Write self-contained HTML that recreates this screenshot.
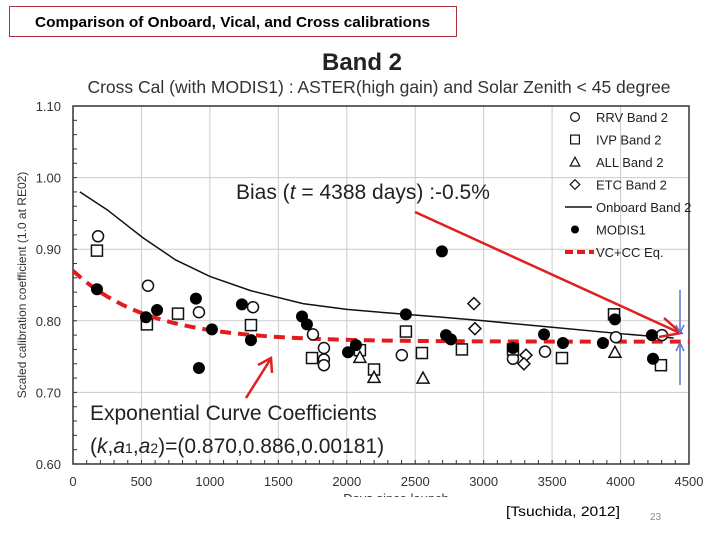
<!DOCTYPE html>
<html><head><meta charset="utf-8"><style>
body{margin:0;width:720px;height:540px;background:#fff;overflow:hidden;font-family:"Liberation Sans",sans-serif}
</style></head><body>
<svg id="chart" width="720" height="540" xmlns="http://www.w3.org/2000/svg" font-family="Liberation Sans, sans-serif">
<rect x="9.5" y="6.5" width="447" height="30" fill="#fff" stroke="#b03040" stroke-width="1"/>
<text x="35" y="27" font-size="15" font-weight="bold" textLength="395" lengthAdjust="spacingAndGlyphs" fill="#000">Comparison of Onboard, Vical, and Cross calibrations</text>
<text x="362" y="70" font-size="24" font-weight="bold" text-anchor="middle" fill="#222">Band 2</text>
<text x="379" y="93" font-size="17.5" text-anchor="middle" fill="#333">Cross Cal (with MODIS1) : ASTER(high gain) and Solar Zenith &lt; 45 degree</text>
<g id="grid"></g>
<g id="axes"></g>
<g id="marks"></g>
<text transform="translate(26,285) rotate(-90)" font-size="12" text-anchor="middle" fill="#333">Scaled calibration coefficient (1.0 at RE02)</text>
<text x="396" y="503" font-size="13" text-anchor="middle" fill="#333">Days since launch</text>
<rect x="0" y="497" width="720" height="43" fill="#fff"/>
<text x="236" y="199" font-size="21" fill="#222">Bias (<tspan font-style="italic">t</tspan> = 4388 days) :-0.5%</text>
<text x="90" y="420" font-size="21" fill="#222">Exponential Curve Coefficients</text>
<text x="90" y="453" font-size="21" fill="#222">(<tspan font-style="italic">k</tspan>,<tspan font-style="italic">a</tspan><tspan font-size="14">1</tspan>,<tspan font-style="italic">a</tspan><tspan font-size="14">2</tspan>)=(0.870,0.886,0.00181)</text>
<g stroke="#e02020" stroke-width="2.5" fill="none">
<line x1="415" y1="212" x2="680" y2="333"/><polyline points="664,318 681,333 659,337"/></g>
<g stroke="#e02020" stroke-width="2.5" fill="none">
<line x1="246" y1="398" x2="270" y2="360"/><polyline points="258,365 271,358 272,373"/></g>
<g stroke="#6070d0" stroke-width="1.5" fill="none">
<line x1="680" y1="290" x2="680" y2="333"/><polyline points="676,325 680,333 684,325"/>
<line x1="680" y1="385" x2="680" y2="343"/><polyline points="676,351 680,343 684,351"/></g>
<g id="legend" font-size="13" fill="#222"></g>
<text x="506" y="516" font-size="14" textLength="114" lengthAdjust="spacingAndGlyphs" fill="#000">[Tsuchida, 2012]</text>
<text x="650" y="520" font-size="10" fill="#888">23</text>
</svg>
<script>
const xTicks=[0,500,1000,1500,2000,2500,3000,3500,4000,4500];
const yTicks=[0.60,0.70,0.80,0.90,1.00,1.10];
const rrvDays=[183,548,920,1315,1753,1833,1833,1833,2402,3214,3448,3966,4303];
const rrvVals=[0.918,0.849,0.812,0.819,0.781,0.762,0.746,0.738,0.752,0.747,0.757,0.777,0.780];
const ivpDays=[175,540,767,1300,1746,2096,2199,2432,2549,2841,3214,3572,3952,4295];
const ivpVals=[0.898,0.795,0.810,0.794,0.748,0.759,0.732,0.785,0.755,0.760,0.760,0.748,0.809,0.738];
const allDays=[2096,2199,2557,3959];
const allVals=[0.749,0.721,0.720,0.756];
const etcDays=[2929,2936,3309,3294];
const etcVals=[0.824,0.789,0.752,0.740];
const modisDays=[175,533,614,898,920,1015,1234,1300,1673,1709,2009,2067,2432,2695,2725,2761,3214,3441,3579,3871,3959,4229,4237];
const modisVals=[0.844,0.805,0.815,0.831,0.734,0.788,0.823,0.773,0.806,0.795,0.756,0.766,0.809,0.897,0.780,0.774,0.762,0.781,0.769,0.769,0.802,0.780,0.747];
const onboardDays=[50,250,511,750,1000,1300,1680,2000,2300,2700,3000,3500,4000,4388];
const onboardVals=[0.980,0.955,0.916,0.885,0.862,0.842,0.824,0.816,0.811,0.805,0.800,0.791,0.782,0.776];
const fitCoef=[0.870,0.886,0.00181];

const NS="http://www.w3.org/2000/svg";
const L=73,R=689,T=106,B=464;
const xS=d=>L+d/4500*(R-L);
const yS=v=>B-(v-0.6)/0.5*(B-T);
function mk(tag,attrs,parent){const e=document.createElementNS(NS,tag);for(const k in attrs)e.setAttribute(k,attrs[k]);parent.appendChild(e);return e;}
const grid=document.getElementById('grid'),axes=document.getElementById('axes'),marks=document.getElementById('marks'),legend=document.getElementById('legend');
xTicks.forEach(t=>{const g=mk('line',{x1:xS(t),x2:xS(t),y1:T,y2:B,stroke:'#ccc','stroke-width':1},grid);

const tx=mk('text',{x:xS(t),y:B+22,'font-size':13,'text-anchor':'middle',fill:'#333'},axes);tx.textContent=t;
});
yTicks.forEach(t=>{const g=mk('line',{x1:L,x2:R,y1:yS(t),y2:yS(t),stroke:'#ccc','stroke-width':1},grid);

const tx=mk('text',{x:L-12,y:yS(t)+5,'font-size':13,'text-anchor':'end',fill:'#333'},axes);tx.textContent=t.toFixed(2);
});
for(let d=100;d<4500;d+=100)mk('line',{x1:xS(d),x2:xS(d),y1:B,y2:B-4,stroke:'#333'},axes);
for(let v=0.62;v<1.1;v+=0.02)mk('line',{x1:L,x2:L+4,y1:yS(v),y2:yS(v),stroke:'#333'},axes);
const fr=mk('rect',{x:L,y:T,width:R-L,height:B-T,fill:'none',stroke:'#333','stroke-width':1.5},axes);


let fp=[];for(let d=0;d<=4500;d+=50){const v=fitCoef[0]*(fitCoef[1]+(1-fitCoef[1])*Math.exp(-fitCoef[2]*d));fp.push(xS(d)+','+yS(v));}
const fit=mk('polyline',{points:fp.join(' '),fill:'none',stroke:'#e21c1c','stroke-width':4,'stroke-dasharray':'11,7'},marks);

const ob=mk('polyline',{points:onboardDays.map((d,i)=>xS(d)+','+yS(onboardVals[i])).join(' '),fill:'none',stroke:'#111','stroke-width':1.5},marks);


function marker(type,x,y,parent){let e;
if(type==='circle')e=mk('circle',{cx:x,cy:y,r:5.5,fill:'#fff',stroke:'#111','stroke-width':1.5},parent);
else if(type==='square')e=mk('rect',{x:x-5.5,y:y-5.5,width:11,height:11,fill:'#fff',stroke:'#111','stroke-width':1.5},parent);
else if(type==='triangle')e=mk('polygon',{points:`${x},${y-6} ${x+6},${y+5} ${x-6},${y+5}`,fill:'#fff',stroke:'#111','stroke-width':1.5},parent);
else if(type==='diamond')e=mk('polygon',{points:`${x},${y-6} ${x+6},${y} ${x},${y+6} ${x-6},${y}`,fill:'#fff',stroke:'#111','stroke-width':1.5},parent);
else e=mk('circle',{cx:x,cy:y,r:6,fill:'#000'},parent);return e;}
rrvDays.forEach((d,i)=>{const e=marker('circle',xS(d),yS(rrvVals[i]),marks);});
ivpDays.forEach((d,i)=>{const e=marker('square',xS(d),yS(ivpVals[i]),marks);});
allDays.forEach((d,i)=>{const e=marker('triangle',xS(d),yS(allVals[i]),marks);});
etcDays.forEach((d,i)=>{const e=marker('diamond',xS(d),yS(etcVals[i]),marks);});
modisDays.forEach((d,i)=>{const e=marker('dot',xS(d),yS(modisVals[i]),marks);});

const legItems=[['circle','RRV Band 2'],['square','IVP Band 2'],['triangle','ALL Band 2'],['diamond','ETC Band 2'],['line','Onboard Band 2'],['dot','MODIS1'],['dash','VC+CC Eq.']];
legItems.forEach((it,i)=>{const y=117+i*22.5;const g=mk('g',{},legend);

if(it[0]==='line')mk('line',{x1:565,x2:592,y1:y,y2:y,stroke:'#111','stroke-width':1.5},g);
else if(it[0]==='dash')mk('line',{x1:565,x2:594,y1:y,y2:y,stroke:'#e21c1c','stroke-width':4,'stroke-dasharray':'8,4'},g);
else if(it[0]==='dot')mk('circle',{cx:575,cy:y,r:4,fill:'#000'},g);
else{const m=marker(it[0],575,y,g);m.setAttribute('transform',`translate(575,${y}) scale(0.8) translate(-575,${-y})`);}
const t=mk('text',{x:596,y:y+5,'font-size':13,fill:'#222'},g);t.textContent=it[1];});
</script>
</body></html>
